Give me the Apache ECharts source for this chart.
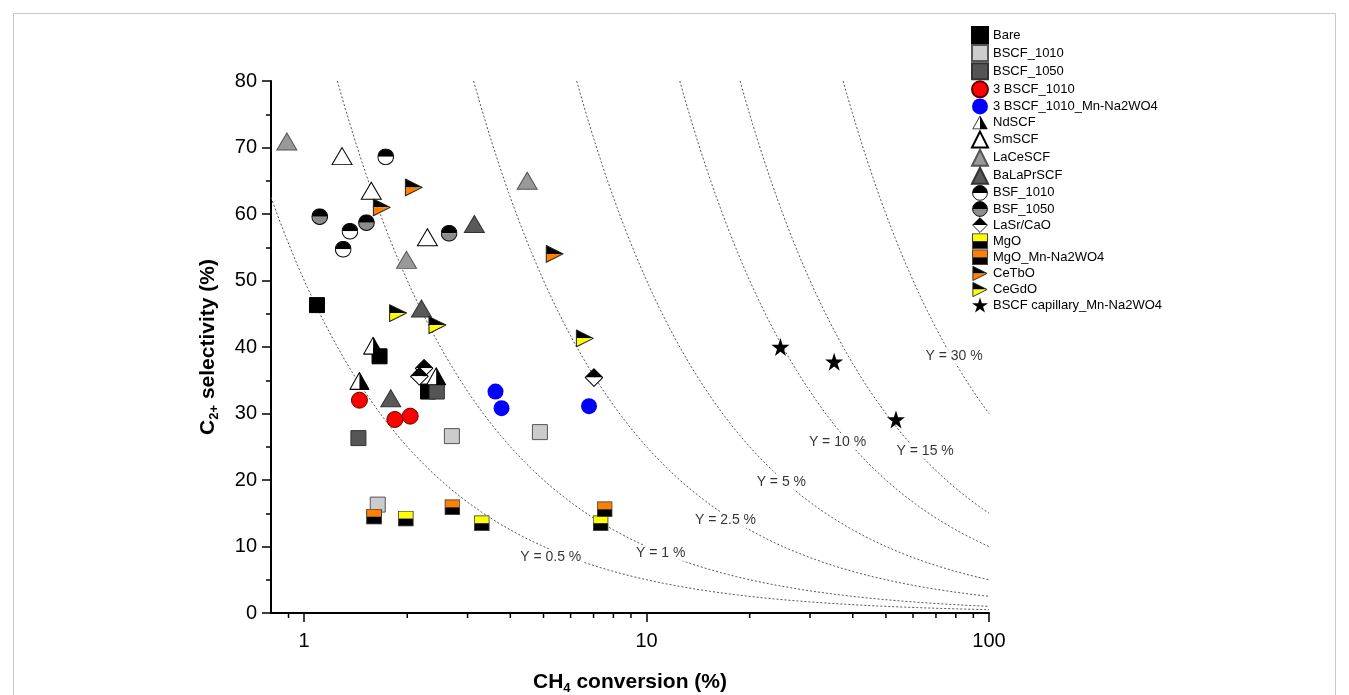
<!DOCTYPE html>
<html>
<head>
<meta charset="utf-8">
<script src="https://cdn.jsdelivr.net/npm/echarts@6/dist/echarts.min.js"></script>
<style>
html,body{margin:0;padding:0;background:#fff;}
#chart{width:1349px;height:695px;}
</style>
</head>
<body>
<div id="chart"></div>
<script>
// ---- data (CH4 conversion %, C2+ selectivity %) ----
const bare = [[1.09,46.3],[1.66,38.6],[2.30,33.3]];
const bscf1010 = [[2.70,26.6],[4.88,27.2],[1.64,16.3]];
const bscf1050 = [[1.44,26.3],[2.44,33.3]];
const bscf3_1010 = [[1.45,32.0],[1.84,29.1],[2.04,29.6]];
const bscf3_1010Mn = [[3.62,33.3],[3.77,30.8],[6.79,31.1]];
const ndscf = [[1.59,40.2],[1.45,34.9],[2.43,35.6]];
const smscf = [[1.29,68.7],[1.57,63.5],[2.29,56.5]];
const lacescf = [[0.89,70.9],[1.99,53.1],[4.48,65.0]];
const balaprscf = [[3.14,58.5],[2.20,45.8],[1.79,32.3]];
const bsf1010 = [[1.73,68.6],[1.36,57.4],[1.30,54.7]];
const bsf1050 = [[1.11,59.6],[1.52,58.7],[2.65,57.1]];
const lasrcao = [[2.24,36.8],[2.17,35.6],[7.02,35.4]];
const mgo = [[1.98,14.2],[3.30,13.5],[7.34,13.5]];
const mgoMn = [[1.60,14.5],[2.71,15.9],[7.54,15.6]];
const cetbo = [[2.09,64.0],[1.685,61.0],[5.39,54.0]];
const cegdo = [[1.88,45.1],[2.45,43.3],[6.60,41.3]];
const capillary = [[24.6,40.0],[35.3,37.8],[53.5,29.1]];

// iso-yield lines (Y = X*S/100) and their label anchors
const yieldLevels = [0.5, 1, 2.5, 5, 10, 15, 30];
const yieldLabelPos = [[5.25,8.4],[11.0,9.0],[17.0,14.0],[24.75,19.7],[36.1,25.7],[65.1,24.4],[79.1,38.6]];

// axis ticks
const xMinorTicks = [0.9,2,3,4,5,6,7,8,9,20,30,40,50,60,70,80,90];

// ---- symbols ----
function svgSym(w, h, body){
  const s = "<svg xmlns='http://www.w3.org/2000/svg' width='"+(w*4)+"' height='"+(h*4)+"' viewBox='0 0 "+w+" "+h+"'>"+body+"</svg>";
  return 'image://data:image/svg+xml;charset=utf-8,' + encodeURIComponent(s);
}
const symHalfTri = svgSym(20,18,
  "<polygon points='1,17 10,1 10,17' fill='#fff'/><polygon points='10,1 19,17 10,17' fill='#000'/>"+
  "<polygon points='1,17 10,1 19,17' fill='none' stroke='#000' stroke-width='1' stroke-linejoin='round'/>");
function halfCircle(bottom){
  return svgSym(16,16,
    "<path d='M0.6 8 A7.4 7.4 0 0 1 15.4 8 Z' fill='#000'/><path d='M0.6 8 A7.4 7.4 0 0 0 15.4 8 Z' fill='"+bottom+"'/>"+
    "<circle cx='8' cy='8' r='7.4' fill='none' stroke='#111' stroke-width='1'/>");
}
const symBsf1010 = halfCircle('#fff');
const symBsf1050 = halfCircle('#8c8c8c');
const symDiamond = svgSym(18,18,
  "<polygon points='0.7,9 9,0.7 17.3,9' fill='#000'/><polygon points='0.7,9 17.3,9 9,17.3' fill='#fff'/>"+
  "<polygon points='9,0.7 17.3,9 9,17.3 0.7,9' fill='none' stroke='#000' stroke-width='1'/>");
function halfSquare(top){
  return svgSym(15,15,
    "<rect x='0.5' y='0.5' width='14' height='7' fill='"+top+"'/><rect x='0.5' y='7.5' width='14' height='7' fill='#000'/>"+
    "<rect x='0.5' y='0.5' width='14' height='14' fill='none' stroke='#444' stroke-width='1'/>");
}
const symMgo = halfSquare('#ffff00');
const symMgoMn = halfSquare('#ff8000');
function flag(bottom){
  return svgSym(18,18,
    "<polygon points='1,1 17,9 1,9' fill='#000'/><polygon points='1,9 17,9 1,17' fill='"+bottom+"'/>"+
    "<polygon points='1,1 17,9 1,17' fill='none' stroke='#222' stroke-width='1' stroke-linejoin='round'/>");
}
const symCetbo = flag('#ff8000');
const symCegdo = flag('#ffff00');
const symStar = 'path://M50,0 L61.8,35.4 L100,35.4 L69.1,57.3 L80.9,92.7 L50,70.8 L19.1,92.7 L30.9,57.3 L0,35.4 L38.2,35.4 Z';

function sc(name, data, symbol, size, fill, border, bw){
  return {
    name: name, type: 'scatter', data: data, symbol: symbol, symbolSize: size,
    itemStyle: {color: fill, borderColor: border || fill, borderWidth: bw === undefined ? 1 : bw, opacity: 1},
    emphasis: {disabled: true}, z: 5
  };
}

const dataSeries = [
  sc('Bare', bare, 'rect', 15, '#000', '#000'),
  sc('BSCF_1010', bscf1010, 'rect', 15, '#cccccc', '#555555'),
  sc('BSCF_1050', bscf1050, 'rect', 15, '#555555', '#333333'),
  sc('3 BSCF_1010', bscf3_1010, 'circle', 16, '#ff0000', '#660000'),
  sc('3 BSCF_1010_Mn-Na2WO4', bscf3_1010Mn, 'circle', 16, '#0000ff', '#0000ff', 0),
  sc('NdSCF', ndscf, symHalfTri, [21,19], '#000'),
  sc('SmSCF', smscf, 'triangle', [20,17], '#ffffff', '#000000'),
  sc('LaCeSCF', lacescf, 'triangle', [20,17], '#999999', '#555555'),
  sc('BaLaPrSCF', balaprscf, 'triangle', [20,17], '#595959', '#333333'),
  sc('BSF_1010', bsf1010, symBsf1010, 17, '#000'),
  sc('BSF_1050', bsf1050, symBsf1050, 17, '#000'),
  sc('LaSr/CaO', lasrcao, symDiamond, 19, '#000'),
  sc('MgO', mgo, symMgo, 16, '#000'),
  sc('MgO_Mn-Na2WO4', mgoMn, symMgoMn, 16, '#000'),
  sc('CeTbO', cetbo, symCetbo, 19, '#000'),
  sc('CeGdO', cegdo, symCegdo, 19, '#000'),
  sc('BSCF capillary_Mn-Na2WO4', capillary, symStar, 18, '#000', '#000', 0)
];

// iso-yield curves
const curveSeries = yieldLevels.map(function(Y){
  const pts = [];
  const x0 = Math.max(0.8, Y * 100 / 80);
  const n = 80;
  const l0 = Math.log10(x0), l1 = 2;
  for (let i = 0; i <= n; i++) {
    const x = Math.pow(10, l0 + (l1 - l0) * i / n);
    pts.push([x, Y * 100 / x]);
  }
  return {
    name: 'Y' + Y, type: 'line', data: pts, showSymbol: false, silent: true, z: 1,
    lineStyle: {color: '#555', width: 1, type: [2, 2]}, emphasis: {disabled: true}
  };
});

const labelSeries = {
  name: 'yieldLabels', type: 'scatter', symbolSize: 2, silent: true, z: 2,
  itemStyle: {color: 'rgba(0,0,0,0)'},
  data: yieldLevels.map(function(Y, i){ return [yieldLabelPos[i][0], yieldLabelPos[i][1], 'Y = ' + Y + ' %']; }),
  label: {
    show: true, position: 'inside', formatter: function(p){ return p.value[2]; },
    color: '#000', fontSize: 14, fontFamily: 'Liberation Sans', backgroundColor: '#fff', padding: [1, 2]
  },
  emphasis: {disabled: true}
};

const minorTickSeries = {
  name: 'xMinor', type: 'custom', silent: true, clip: false, z: 6,
  data: xMinorTicks.map(function(v){ return [v, 0]; }),
  encode: {x: 0, y: 1},
  renderItem: function(params, api){
    const p = api.coord([api.value(0), 0]);
    return {type: 'line', shape: {x1: p[0], y1: p[1], x2: p[0], y2: p[1] + 5},
            style: {stroke: '#000', lineWidth: 1.5}};
  }
};

const titleRich = {
  b: {fontSize: 21, fontWeight: 'bold', color: '#000', fontFamily: 'Liberation Sans'},
  s: {fontSize: 13, fontWeight: 'bold', color: '#000', fontFamily: 'Liberation Sans', padding: [13, 0, 0, 0]}
};

const chart = echarts.init(document.getElementById('chart'), null, {renderer: 'canvas'});
chart.setOption({
  animation: false,
  backgroundColor: '#fff',
  textStyle: {fontFamily: 'Liberation Sans'},
  graphic: [{
    type: 'rect', shape: {x: 13.5, y: 13.5, width: 1322, height: 700},
    style: {fill: 'none', stroke: '#c8c8c8', lineWidth: 1}, silent: true, z: -10
  }],
  grid: {left: 271, right: 360, top: 81, bottom: 82, containLabel: false, outerBoundsMode: 'none'},
  legend: {
    orient: 'vertical', left: 966, top: 21,
    itemWidth: 16, itemHeight: 16, itemGap: 0.1, itemTextGap: 12,
    data: dataSeries.map(function(s){ return s.name; }),
    textStyle: {fontSize: 13, color: '#000', fontFamily: 'Liberation Sans'},
    selectedMode: false
  },
  xAxis: {
    type: 'log', logBase: 10, min: 0.8, max: 100,
    name: '{b|CH}{s|4}{b| conversion (%)}', nameLocation: 'middle', nameGap: 56,
    nameTextStyle: {rich: titleRich},
    axisLine: {show: true, lineStyle: {color: '#000', width: 2}},
    axisTick: {show: true, length: 9, lineStyle: {color: '#000', width: 1.5}},
    axisLabel: {show: true, showMinLabel: false, color: '#000', fontSize: 20, margin: 18, fontFamily: 'Liberation Sans'},
    splitLine: {show: false}, minorTick: {show: false}, minorSplitLine: {show: false}
  },
  yAxis: {
    type: 'value', min: 0, max: 80, interval: 10,
    name: '{b|C}{s|2+}{b| selectivity (%)}', nameLocation: 'middle', nameGap: 50, nameRotate: 90,
    nameTextStyle: {rich: titleRich},
    axisLine: {show: true, lineStyle: {color: '#000', width: 2}},
    axisTick: {show: true, length: 9, lineStyle: {color: '#000', width: 1.5}},
    minorTick: {show: true, splitNumber: 2, length: 5, lineStyle: {color: '#000', width: 1.5}},
    axisLabel: {color: '#000', fontSize: 20, margin: 14, fontFamily: 'Liberation Sans'},
    splitLine: {show: false}, minorSplitLine: {show: false}
  },
  series: curveSeries.concat([labelSeries, minorTickSeries]).concat(dataSeries)
});
</script>
</body>
</html>
